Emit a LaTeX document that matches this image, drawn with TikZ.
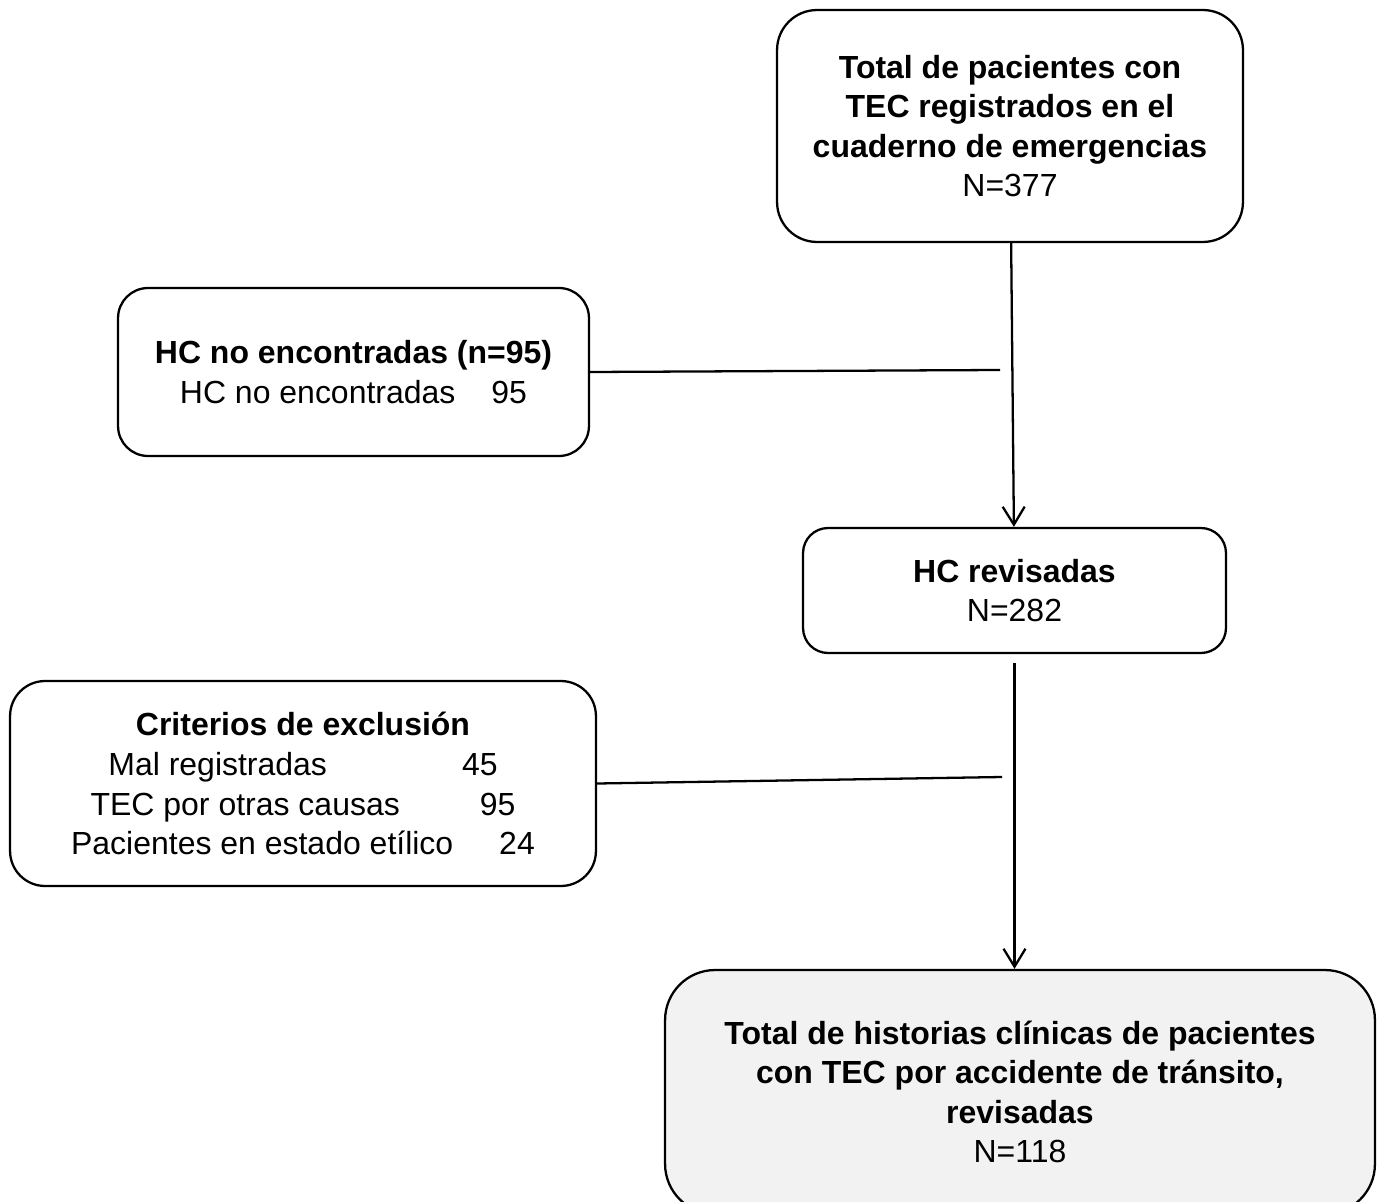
\documentclass[tikz,border=0pt]{standalone}
\usepackage{fontspec}
\setmainfont{Liberation Sans}
\usepackage{tikz}
\usetikzlibrary{arrows.meta,positioning,calc}
\definecolor{BoxGray}{RGB}{242,242,242}
\newcommand{\flowfont}{\fontsize{18.2}{22.3}\selectfont}
\newcommand{\exclfont}{\fontsize{18.2}{22.7}\selectfont}
\tikzset{
  basebox/.style={rectangle,draw=black,line width=1.3pt,align=center,
    font=\flowfont,inner sep=0pt},
  startbox/.style={basebox,rounded corners=0.8cm,
    minimum width=9.32cm,minimum height=4.64cm},
  sidebox/.style={basebox,rounded corners=0.6cm,
    minimum width=9.42cm,minimum height=3.36cm},
  midbox/.style={basebox,rounded corners=0.5cm,
    minimum width=8.46cm,minimum height=2.5cm},
  exclbox/.style={basebox,font=\exclfont,rounded corners=0.7cm,
    minimum width=11.72cm,minimum height=4.1cm},
  endbox/.style={basebox,fill=BoxGray,rounded corners=1cm,
    minimum width=14.2cm,minimum height=4.88cm},
  arrow/.style={-{Straight Barb[length=0.36cm,width=0.44cm]},line width=1.3pt},
  sideline/.style={line width=1.3pt}
}
\begin{document}
\begin{tikzpicture}[x=0.02cm,y=-0.02cm]
  \clip (0,0) rectangle (1381,1202);
  \node[startbox] (tot) at (1010,126) {\textbf{Total de pacientes con}\\\textbf{TEC registrados en el}\\\textbf{cuaderno de emergencias}\\N=377};
  \node[sidebox] (nofound) at (353.5,372) {\textbf{HC no encontradas (n=95)}\\HC no encontradas\hspace{0.72cm}95};
  \node[midbox] (rev) at (1014.5,590.5) {\textbf{HC revisadas}\\N=282};
  \node[exclbox] (excl) at (303,783.5) {\textbf{Criterios de exclusión}\\Mal registradas\hspace{2.7cm}45\\TEC por otras causas\hspace{1.6cm}95\\Pacientes en estado etílico\hspace{0.92cm}24};
  \node[endbox] (fin) at (1020,1092) {\textbf{Total de historias clínicas de pacientes}\\\textbf{con TEC por accidente de tránsito,}\\\textbf{revisadas}\\N=118};
  % vertical flow
  \draw[arrow] (tot) -- (rev);
  \draw[arrow,shorten <=0.18cm] (rev.south) -- (rev.south |- fin.north);
  % exclusions
  \coordinate (j1) at (1000,370);
  \coordinate (j2) at (1002,777);
  \draw[sideline] (nofound.east) -- (j1);
  \draw[sideline] (excl.east) -- (j2);
\end{tikzpicture}
\end{document}
